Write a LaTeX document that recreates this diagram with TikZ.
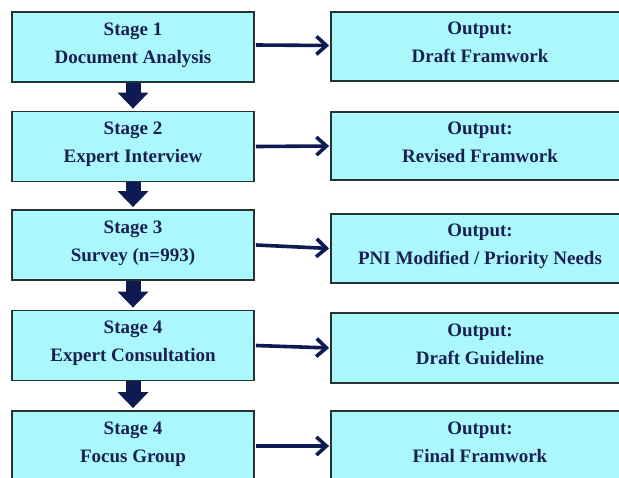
\documentclass[tikz,border=0pt]{standalone}
\usepackage{fontspec}
\setmainfont{Liberation Serif}
\usetikzlibrary{arrows.meta}
\definecolor{boxfill}{HTML}{AAF8FC}
\definecolor{boxline}{HTML}{263333}
\definecolor{txtnavy}{HTML}{1A2152}
\definecolor{arrownavy}{HTML}{0E1A52}
\newcommand\ls{\rule[-10pt]{0pt}{24pt}}
\begin{document}
\begin{tikzpicture}[x=1pt,y=-1pt,
 stagebox/.style={draw=boxline, line width=1.8pt, fill=boxfill, minimum width=242pt, minimum height=70pt, inner sep=0pt, align=center, text=txtnavy, font=\fontsize{19}{28}\selectfont\bfseries},
 outbox/.style={stagebox, minimum width=298pt},
 downarrow/.style={draw=arrownavy, line width=15pt, -{Triangle[length=16pt,width=30pt]}, shorten >=2pt},
 rightarrow/.style={draw=arrownavy, line width=3.6pt, -{Straight Barb[length=10pt,width=18pt]}, shorten >=1pt}]
\useasboundingbox (0,0) rectangle (619,477);
\clip (0,0) rectangle (619,477);
\fill[white] (0,0) rectangle (619,477);
% stages
\node[stagebox] (s1) at (133,47) {\ls Stage 1\\\ls Document Analysis};
\node[stagebox] (s2) at (133,146.5) {\ls Stage 2\\\ls Expert Interview};
\node[stagebox] (s3) at (133,245) {\ls Stage 3\\\ls Survey (n=993)};
\node[stagebox] (s4) at (133,345.5) {\ls Stage 4\\\ls Expert Consultation};
\node[stagebox] (s5) at (133,446) {\ls Stage 4\\\ls Focus Group};
% outputs
\node[outbox, minimum height=69pt] (o1) at (480,46.5) {\ls Output:\\\ls Draft Framwork};
\node[outbox, minimum height=68pt] (o2) at (480,146) {\ls Output:\\\ls Revised Framwork};
\node[outbox, minimum height=69pt] (o3) at (480,248.5) {\ls Output:\\\ls PNI Modified / Priority Needs};
\node[outbox] (o4) at (480,348) {\ls Output:\\\ls Draft Guideline};
\node[outbox] (o5) at (480,446) {\ls Output:\\\ls Final Framwork};
% down arrows
\draw[downarrow] (s1.south) -- (s2.north);
\draw[downarrow] (s2.south) -- (s3.north);
\draw[downarrow] (s3.south) -- (s4.north);
\draw[downarrow] (s4.south) -- (s5.north);
% right arrows
\draw[rightarrow] ([xshift=1pt,yshift=2pt]s1.east) -- ([yshift=1pt]o1.west);
\draw[rightarrow] ([xshift=1pt]s2.east) -- (o2.west);
\draw[rightarrow] ([xshift=1pt]s3.east) -- (o3.west);
\draw[rightarrow] ([xshift=1pt]s4.east) -- (o4.west);
\draw[rightarrow] ([xshift=1pt]s5.east) -- (o5.west);
\end{tikzpicture}
\end{document}
